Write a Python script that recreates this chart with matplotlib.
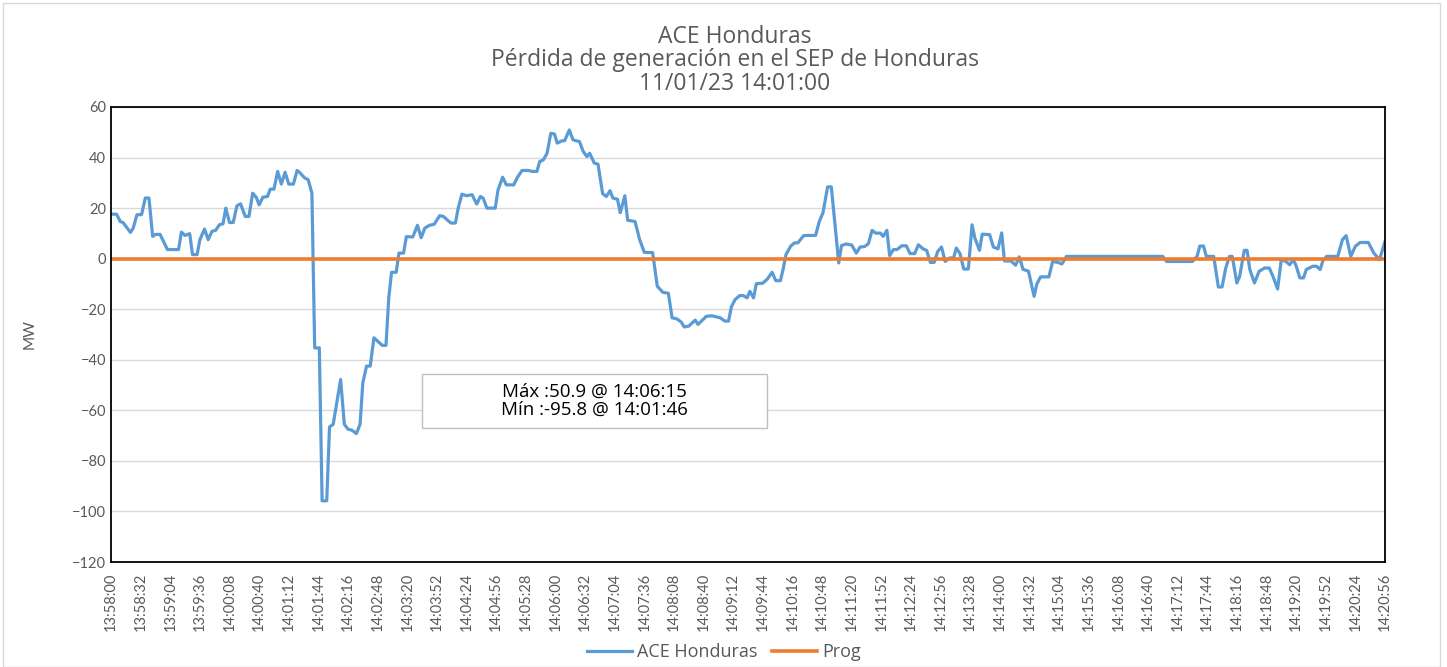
import matplotlib
matplotlib.use("Agg")
import matplotlib.pyplot as plt
from matplotlib.patches import Rectangle

plt.rcParams['font.family'] = ['Lato', 'DejaVu Sans']

# data: vertices of the ACE curve, seconds after 13:58:00 and MW
t_sec = [0, 6, 10, 13, 21, 24, 28, 33, 37, 41, 45, 48, 53, 61, 73, 76, 80, 85, 88, 93,
         96, 101, 105, 109, 113, 117, 121, 124, 128, 132, 136, 140, 145, 149, 153, 157, 160, 164, 169, 172,
         176, 180, 184, 188, 192, 197, 201, 204, 209, 213, 217, 220, 225, 228, 233, 236, 240, 248, 252, 256,
         260, 265, 269, 272, 276, 280, 284, 293, 297, 300, 303, 308, 311, 316, 319, 326, 331, 335, 339, 344,
         349, 355, 359, 367, 372, 375, 379, 384, 390, 395, 399, 402, 406, 415, 418, 423, 427, 435, 439, 444,
         451, 455, 460, 463, 467, 471, 475, 479, 482, 487, 490, 495, 499, 506, 510, 514, 517, 522, 526, 531,
         535, 539, 542, 547, 550, 555, 558, 566, 571, 576, 585, 590, 596, 602, 606, 611, 616, 619, 624, 631,
         634, 643, 649, 658, 663, 667, 670, 674, 679, 683, 687, 690, 694, 697, 704, 709, 714, 718, 723, 726,
         729, 734, 738, 742, 748, 751, 761, 765, 769, 774, 778, 786, 789, 794, 800, 805, 809, 814, 818, 822,
         826, 831, 834, 838, 841, 845, 849, 854, 859, 863, 868, 872, 877, 881, 885, 889, 893, 897, 901, 906,
         910, 913, 917, 921, 926, 930, 933, 938, 941, 949, 953, 958, 962, 965, 972, 977, 981, 985, 991, 997,
         1000, 1004, 1013, 1017, 1023, 1027, 1032, 1136, 1140, 1168, 1173, 1176, 1180, 1183, 1191, 1196, 1200, 1204, 1208, 1211,
         1216, 1219, 1224, 1227, 1230, 1235, 1240, 1246, 1251, 1255, 1260, 1264, 1269, 1273, 1277, 1280, 1284, 1288, 1291, 1298,
         1302, 1306, 1309, 1313, 1325, 1330, 1334, 1339, 1344, 1349, 1358, 1364, 1370, 1376]
ace_mw = [17.6, 17.6, 14.7, 14.3, 10.4, 12.1, 17.4, 17.4, 24.0, 24.0, 8.8, 9.6, 9.6, 3.6, 3.6, 10.5, 9.2, 9.9, 1.6, 1.6,
          7.5, 11.7, 7.5, 10.8, 11.2, 13.4, 13.8, 20.0, 14.3, 14.3, 20.9, 21.7, 16.7, 16.7, 25.9, 24.2, 21.3, 24.3, 24.6, 27.5,
          27.5, 34.5, 29.5, 34.2, 29.5, 29.5, 34.9, 34.0, 32.0, 31.2, 25.9, -35.3, -35.3, -95.8, -95.8, -66.6, -65.5, -47.8, -65.5, -67.5,
          -67.8, -69.2, -65.5, -49.1, -42.5, -42.5, -31.3, -34.3, -34.3, -15.5, -5.4, -5.4, 2.2, 2.2, 8.7, 8.6, 13.2, 8.3, 12.1, 13.2,
          13.6, 17.0, 16.7, 14.1, 14.1, 20.0, 25.5, 24.9, 25.3, 21.6, 24.6, 23.9, 20.0, 20.0, 27.2, 32.2, 29.2, 29.2, 32.2, 34.9,
          34.9, 34.5, 34.5, 38.4, 39.1, 41.7, 49.6, 49.3, 45.7, 46.6, 46.7, 50.9, 47.0, 46.3, 42.4, 40.4, 41.7, 37.8, 37.4, 25.7,
          24.6, 26.9, 24.0, 23.5, 18.2, 24.9, 15.2, 14.7, 7.5, 2.5, 2.4, -10.9, -13.3, -13.7, -23.4, -23.8, -25.1, -27.0, -26.7, -24.3,
          -26.0, -22.8, -22.6, -23.4, -24.7, -24.7, -19.1, -16.2, -14.6, -14.6, -15.5, -12.9, -15.5, -9.9, -9.7, -8.0, -5.4, -8.7, -8.7, -4.1,
          1.6, 4.9, 6.2, 6.3, 9.1, 9.2, 9.2, 14.7, 18.2, 28.4, 28.4, -1.7, 5.2, 5.8, 5.4, 2.2, 4.6, 4.8, 5.9, 11.2,
          10.1, 10.1, 8.8, 11.2, 1.2, 3.6, 3.6, 5.1, 5.1, 2.0, 2.0, 5.5, 3.9, 3.2, -1.5, -1.5, 2.9, 4.6, -1.1, 0.3,
          0.3, 4.2, 2.0, -4.1, -4.1, 13.4, 8.2, 3.3, 9.7, 9.5, 4.6, 3.9, 10.2, -0.9, -0.9, -2.6, 0.7, -4.2, -5.0, -14.9,
          -10.0, -7.2, -7.2, -1.1, -1.5, -2.1, 0.9, 0.9, -1.1, -1.1, 0.9, 5.0, 5.0, 0.9, 0.9, -11.2, -11.2, -3.7, 0.9, 0.9,
          -9.6, -7.0, 3.3, 3.3, -4.3, -9.6, -5.0, -3.7, -3.7, -7.0, -12.0, -0.4, -1.1, -2.4, -0.4, -2.8, -7.6, -7.6, -4.3, -3.0,
          -3.0, -4.3, -0.7, 0.9, 0.9, 7.5, 9.1, 0.9, 4.9, 6.4, 6.4, 2.2, -0.4, 6.8]

prog_t = [0, 1376]
prog_mw = [0, 0]

tick_sec = list(range(0, 1377, 32))
tick_labels = ["13:58:00", "13:58:32", "13:59:04", "13:59:36", "14:00:08", "14:00:40", "14:01:12",
               "14:01:44", "14:02:16", "14:02:48", "14:03:20", "14:03:52", "14:04:24", "14:04:56",
               "14:05:28", "14:06:00", "14:06:32", "14:07:04", "14:07:36", "14:08:08", "14:08:40",
               "14:09:12", "14:09:44", "14:10:16", "14:10:48", "14:11:20", "14:11:52", "14:12:24",
               "14:12:56", "14:13:28", "14:14:00", "14:14:32", "14:15:04", "14:15:36", "14:16:08",
               "14:16:40", "14:17:12", "14:17:44", "14:18:16", "14:18:48", "14:19:20", "14:19:52",
               "14:20:24", "14:20:56"]

W, H = 1447, 667
wide = ['Open Sans', 'DejaVu Sans']
fig = plt.figure(figsize=(W / 100, H / 100), dpi=100)
ax = fig.add_axes([111 / W, 1 - 562 / H, (1385 - 111) / W, (562 - 107) / H])

ax.plot(t_sec, ace_mw, color="#5B9BD5", lw=2.3, label="ACE Honduras", solid_joinstyle="round")
ax.plot(prog_t, prog_mw, color="#ED7D31", lw=2.6, label="Prog")

ax.set_xlim(0, 1376)
ax.set_ylim(-120, 60)
ax.set_yticks(range(-120, 61, 20))
ax.set_xticks(tick_sec)
ax.set_xticklabels(tick_labels, rotation=90)
ax.tick_params(length=0, labelsize=10.5, colors="#595959")
ax.tick_params(axis="x", pad=8)
ax.grid(axis="y", color="#D9D9D9", lw=1)
ax.set_axisbelow(True)
for s in ax.spines.values():
    s.set_color("black")
    s.set_linewidth(1.3)

ax.set_ylabel("MW", fontsize=11, color="#595959")
ax.yaxis.set_label_coords(-74 / (1385 - 111), 0.5)

# title
title_lines = ["ACE Honduras", "Pérdida de generación en el SEP de Honduras", "11/01/23 14:01:00"]
for yy, line in zip([37, 60, 84], title_lines):
    fig.text(735 / W, 1 - yy / H, line, ha="center", va="center", fontsize=16.5,
             color="#595959", family=wide)

# annotation box
fig.patches.append(Rectangle((422 / W, 1 - 428 / H), (767 - 422) / W, (428 - 374) / H,
                             transform=fig.transFigure, facecolor="white", edgecolor="#BFBFBF", lw=1, zorder=5))
fig.text(594 / W, 1 - 392 / H, "Máx :50.9 @ 14:06:15", ha="center", va="center",
         fontsize=13.5, color="black", family=wide, zorder=6)
fig.text(594 / W, 1 - 410 / H, "Mín :-95.8 @ 14:01:46", ha="center", va="center",
         fontsize=13.5, color="black", family=wide, zorder=6)

# outer border
fig.patches.append(Rectangle((3 / W, 0), (1440 - 3) / W, 1 - 3 / H, transform=fig.transFigure,
                             facecolor="none", edgecolor="#D9D9D9", lw=1))

fig.legend(loc="center", bbox_to_anchor=(724 / W, 1 - 652 / H), ncol=2, frameon=False,
           prop={'family': wide, 'size': 13}, handlelength=2.5, handletextpad=0.3,
           columnspacing=0.8, labelcolor="#595959")

fig.savefig("out.png", dpi=100)
